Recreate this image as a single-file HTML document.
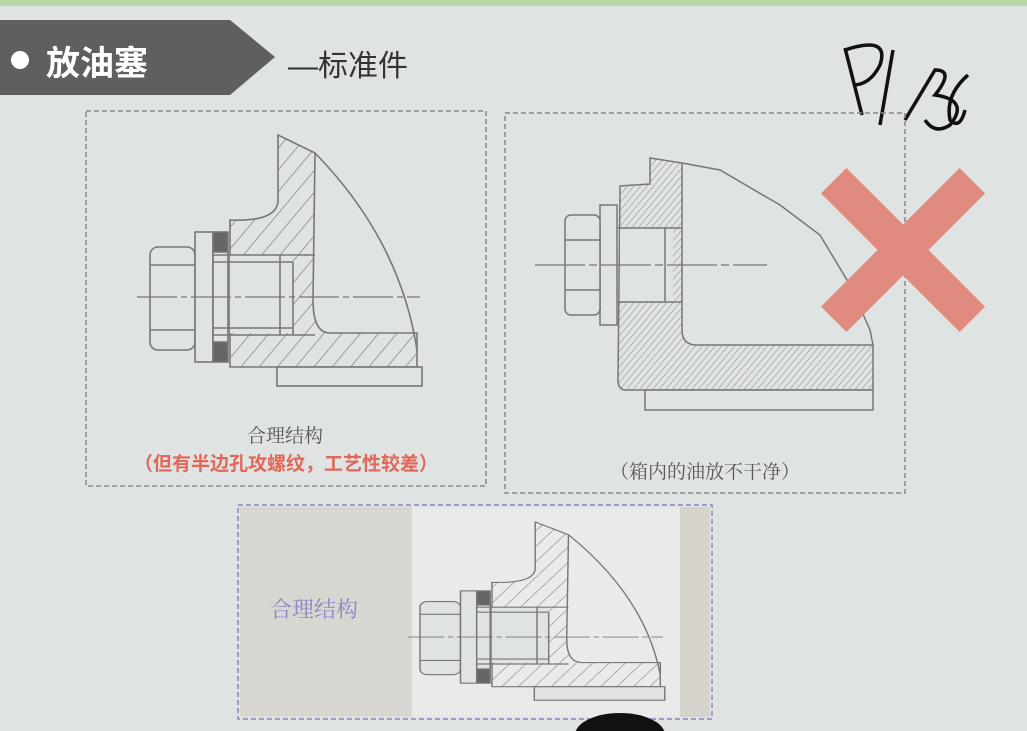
<!DOCTYPE html>
<html><head><meta charset="utf-8"><style>
html,body{margin:0;padding:0;width:1027px;height:731px;overflow:hidden;background:#dfe3e1}
svg{position:absolute;left:0;top:0}
text{font-family:"Liberation Sans","Noto Sans CJK SC",sans-serif}
.s{font-family:"Liberation Serif","Noto Serif CJK SC",serif}
</style></head><body>
<svg width="1027" height="731" viewBox="0 0 1027 731" xmlns="http://www.w3.org/2000/svg">
<defs>
<pattern id="h1" width="14" height="14" patternUnits="userSpaceOnUse" patternTransform="rotate(40)"><line x1="0" y1="0" x2="0" y2="14" stroke="#777" stroke-width="1.3"/></pattern>
<pattern id="h2" width="5" height="5" patternUnits="userSpaceOnUse" patternTransform="rotate(40)"><line x1="0" y1="0" x2="0" y2="5" stroke="#888" stroke-width="1"/></pattern>
<g id="d1" fill="none" stroke="#777" stroke-width="1.6">
  <path d="M278,135 L315,153 L313,300 Q313,333 330,333 L417,333 L417,367 L230,367 L230,220 Q278,222 278,200 Z" fill="url(#h1)"/>
  <rect x="230" y="255" width="63" height="78" fill="#dfe3e1" stroke="none"/>
  <path d="M315,153 Q400,240 417,350"/>
  <rect x="277" y="367" width="145" height="19" fill="#dfe3e1"/>
  <rect x="150" y="247" width="45" height="103" rx="8" fill="#dfe3e1"/>
  <line x1="150" y1="265" x2="195" y2="265"/><line x1="150" y1="330" x2="195" y2="330"/>
  <rect x="195" y="232" width="18" height="130" fill="#dfe3e1"/>
  <rect x="213" y="232" width="15" height="130" fill="#666"/>
  <rect x="213" y="252" width="15" height="90" fill="#dfe3e1"/>
  <line x1="213" y1="255" x2="315" y2="255"/><line x1="213" y1="335" x2="315" y2="335"/>
  <line x1="213" y1="262" x2="293" y2="262"/><line x1="213" y1="328" x2="293" y2="328"/>
  <line x1="280" y1="255" x2="280" y2="335"/><line x1="293" y1="262" x2="293" y2="335"/>
  <line x1="137" y1="297" x2="420" y2="297" stroke-width="1.2" stroke-dasharray="40,4,6,4"/>
</g>
</defs>
<rect x="0" y="0" width="1027" height="6" fill="#b9d8a8"/>
<polygon points="0,20 230,20 275,57 230,95 0,95" fill="#5d605e"/>
<circle cx="20" cy="60" r="9" fill="#fff"/>
<text x="46" y="75" font-size="34" font-weight="bold" fill="#fff">放油塞</text>
<text x="288" y="76" font-size="30" fill="#333">—标准件</text>
<path d="M845,48 L862,115 M845,50 Q890,35 880,65 Q870,85 853,85 M893,50 L880,125 M905,120 L935,70 Q955,70 935,95 Q970,100 950,125 Q935,135 925,120 M968,75 Q945,95 950,120 Q960,130 965,110" fill="none" stroke="#111" stroke-width="3.5"/>
<rect x="86" y="111" width="400" height="375" fill="none" stroke="#888" stroke-width="1.5" stroke-dasharray="5,3"/>
<rect x="505" y="113" width="400" height="380" fill="none" stroke="#888" stroke-width="1.5" stroke-dasharray="5,3"/>
<rect x="240" y="507" width="172" height="210" fill="#d8d6d0"/>
<rect x="412" y="507" width="268" height="210" fill="#e8ebe9"/>
<rect x="680" y="507" width="30" height="210" fill="#d6d3cc"/>
<rect x="238" y="505" width="474" height="214" fill="none" stroke="#8a86c8" stroke-width="1.5" stroke-dasharray="5,3"/>
<use href="#d1"/>
<g transform="translate(420,522) scale(0.9,0.71) translate(-150,-135)"><use href="#d1"/></g>
<g fill="none" stroke="#777" stroke-width="1.5">
  <path d="M650,158 L682,163 L682,330 Q682,345 697,345 L873,345 L873,390 L626,390 Q618,390 618,380 L620,186 L650,184 Z" fill="url(#h2)"/>
  <rect x="620" y="228" width="53" height="74" fill="#dfe3e1" stroke="none"/>
  <line x1="617" y1="228" x2="682" y2="228"/><line x1="617" y1="302" x2="682" y2="302"/>
  <line x1="665" y1="228" x2="665" y2="302"/>
  <path d="M682,163 L720,170 L780,205 L820,235 L850,285 L870,330 L873,345"/>
  <rect x="645" y="390" width="228" height="20" fill="#dfe3e1"/>
  <rect x="600" y="205" width="17" height="120" fill="#dfe3e1"/>
  <rect x="565" y="215" width="35" height="100" rx="6" fill="#dfe3e1"/>
  <line x1="565" y1="240" x2="600" y2="240"/><line x1="565" y1="290" x2="600" y2="290"/>
  <line x1="535" y1="265" x2="767" y2="265" stroke-width="1.2" stroke-dasharray="50,4,8,4"/>
</g>
<g fill="#e08a80">
  <rect x="805" y="232" width="196" height="36" transform="rotate(45 903 250)"/>
  <rect x="805" y="232" width="196" height="36" transform="rotate(-45 903 250)"/>
</g>
<text class="s" x="285" y="442" font-size="19" fill="#555" text-anchor="middle">合理结构</text>
<text x="286" y="470" font-size="19" font-weight="bold" fill="#e0685a" text-anchor="middle">（但有半边孔攻螺纹，工艺性较差）</text>
<text class="s" x="705" y="478" font-size="19" fill="#555" text-anchor="middle">（箱内的油放不干净）</text>
<text class="s" x="270" y="617" font-size="22" fill="#8a86c8">合理结构</text>
<ellipse cx="620" cy="735" rx="45" ry="22" fill="#111"/>
</svg>
</body></html>
